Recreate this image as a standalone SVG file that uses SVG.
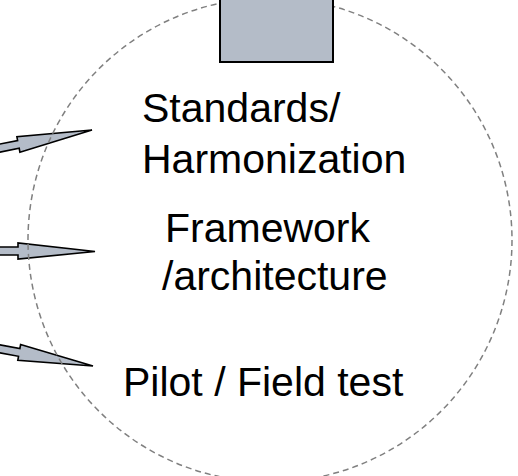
<svg xmlns="http://www.w3.org/2000/svg" width="518" height="476" viewBox="0 0 518 476">
  <style>
    .arrow { fill: #b4bcc8; stroke: #000000; stroke-width: 1.6; stroke-linejoin: miter; }
    .ring { fill: none; stroke: #808080; stroke-width: 1.5; stroke-dasharray: 6 4; }
    .box { fill: #b4bcc8; stroke: #000000; stroke-width: 2; }
    .label { font-family: "Liberation Sans", Arial, sans-serif; font-size: 41px; fill: #000000; }
  </style>
  <rect width="518" height="476" fill="#ffffff"/>

  <!-- incoming block arrows -->
  <g id="connectors">
    <polygon class="arrow" points="-10.8,146.1 17.6,140.5 16.9,136.6 92,130 19.9,152.2 19.2,148.3 -9.2,153.9"/>
    <polygon class="arrow" points="-10,247 18,247 18,243 95,251.5 18,259 18,255 -10,255"/>
    <polygon class="arrow" points="-9.3,343.1 19.9,348.5 20.6,344.5 93,366 17.8,360.3 18.5,356.3 -10.7,350.9"/>
  </g>

  <!-- dashed boundary -->
  <g id="boundary">
    <circle class="ring" cx="270" cy="240" r="242"/>
  </g>

  <!-- block at the top -->
  <g id="top-block">
    <rect class="box" x="220" y="-3" width="113" height="65"/>
  </g>

  <g id="standards">
    <text class="label" x="142" y="122">Standards/</text>
    <text class="label" x="142" y="173">Harmonization</text>
  </g>

  <g id="framework">
    <text class="label" x="165" y="242">Framework</text>
    <text class="label" x="162" y="290">/architecture</text>
  </g>

  <g id="pilot">
    <text class="label" x="123" y="396">Pilot / Field test</text>
  </g>
</svg>
